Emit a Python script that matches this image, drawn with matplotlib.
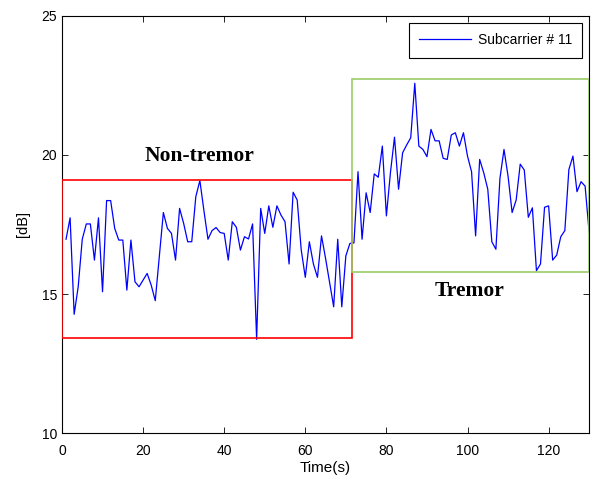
import numpy as np
import matplotlib
matplotlib.use("Agg")
import matplotlib.pyplot as plt
from matplotlib.patches import Rectangle

time_s = np.arange(1, 131)
values_db = [
    16.97, 17.74, 14.27, 15.26, 16.97, 17.52, 17.52, 16.22, 17.74, 15.08,
    18.36, 18.36, 17.36, 16.94, 16.94, 15.14, 16.94, 15.44, 15.26, 15.50,
    15.74, 15.32, 14.76, 16.35, 17.93, 17.36, 17.18, 16.22, 18.08, 17.54,
    16.88, 16.88, 18.50, 19.08, 18.00, 16.97, 17.28, 17.39, 17.21, 17.18,
    16.22, 17.60, 17.40, 16.58, 17.06, 16.98, 17.52, 13.37, 18.08, 17.18,
    18.17, 17.40, 18.17, 17.84, 17.60, 16.08, 18.66, 18.38, 16.58, 15.60,
    16.88, 16.08, 15.60, 17.09, 16.28, 15.40, 14.54, 16.97, 14.54, 16.37,
    16.82, 16.84, 19.40, 16.97, 18.64, 17.93, 19.32, 19.20, 20.32, 17.81,
    19.37, 20.64, 18.77, 20.08, 20.36, 20.62, 22.58, 20.32, 20.20, 19.94,
    20.92, 20.51, 20.51, 19.88, 19.84, 20.72, 20.80, 20.32, 20.80, 19.96,
    19.40, 17.09, 19.84, 19.36, 18.77, 16.88, 16.61, 19.16, 20.20, 19.24,
    17.93, 18.38, 19.67, 19.46, 17.76, 18.10, 15.84, 16.08, 18.12, 18.17,
    16.22, 16.40, 17.06, 17.28, 19.48, 19.96, 18.68, 19.04, 18.88, 17.21,
]
series_label = "Subcarrier # 11"

# region boxes: (x0, x1, y0, y1)
nontremor_box = (0.0, 71.5, 13.41, 19.10)
tremor_box = (71.6, 129.9, 15.78, 22.72)
nontremor_text = ("Non-tremor", 34.0, 19.95)
tremor_text = ("Tremor", 100.5, 15.1)

x_ticks = [0, 20, 40, 60, 80, 100, 120]
y_ticks = [10, 15, 20, 25]

plt.rcParams['font.family'] = ['Liberation Sans', 'DejaVu Sans']

fig = plt.figure(figsize=(5.92, 4.80), dpi=100)
ax = fig.add_axes([0.1047, 0.0979, 0.8905, 0.8688])

ax.plot(time_s, values_db, color='#0000ff', lw=0.9, label=series_label)

for (x0, x1, y0, y1), col in [(nontremor_box, '#ff0000'), (tremor_box, '#99cc66')]:
    ax.add_patch(Rectangle((x0, y0), x1 - x0, y1 - y0, fill=False,
                           edgecolor=col, lw=1.2, zorder=3))

for txt, tx, ty in [nontremor_text, tremor_text]:
    ax.text(tx, ty, txt, ha='center', va='center', fontsize=15.5,
            fontweight='bold', family=['Liberation Serif', 'DejaVu Serif'])

ax.set_xlim(0, 130)
ax.set_ylim(10, 25)
ax.set_xticks(x_ticks)
ax.set_yticks(y_ticks)
ax.tick_params(direction='in', top=True, right=True, labelsize=10, length=4,
               width=0.6)
ax.tick_params(axis='x', pad=8)
for s in ax.spines.values():
    s.set_linewidth(0.8)
ax.set_xlabel("Time(s)", fontsize=11, labelpad=2)
ax.set_ylabel("[dB]", fontsize=10.5, labelpad=8)

leg = ax.legend(loc='upper right', fontsize=10, fancybox=False, framealpha=1,
                edgecolor='black', borderaxespad=0.5, handlelength=3.7,
                borderpad=0.75, handletextpad=0.5)
leg.get_frame().set_linewidth(0.8)

fig.savefig("out.png", dpi=100)
